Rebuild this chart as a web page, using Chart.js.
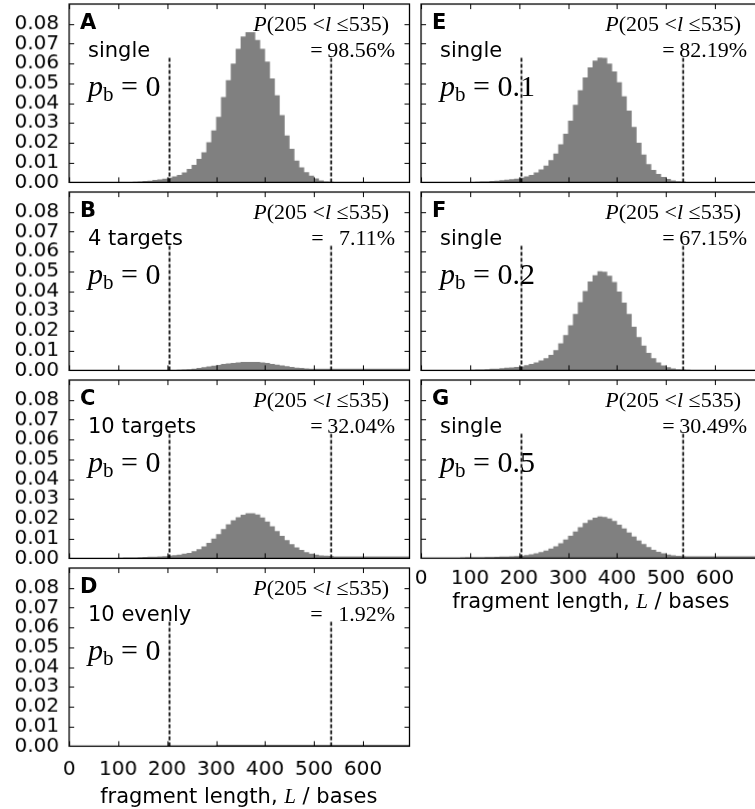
<!DOCTYPE html>
<html>
<head>
<meta charset="utf-8">
<script src="https://cdn.jsdelivr.net/npm/chart.js@4.4.0/dist/chart.umd.min.js"></script>
<style>
    html, body { margin: 0; padding: 0; background: #fff; width: 755px; height: 809px; overflow: hidden; }
    .panel { position: absolute; }
    .note { position: absolute; white-space: nowrap; color: #000; line-height: 1; z-index: 5; }
    .sans { font-family: "DejaVu Sans", sans-serif; }
    .serif { font-family: "Liberation Serif", "DejaVu Serif", serif; }
    .letter { font-weight: bold; font-size: 21px; }
    .label { font-size: 21px; }
    .pb { font-size: 30px; }
    .pb sub { font-size: 21px; vertical-align: -5px; font-style: normal; }
    .prob { font-size: 22px; }
    .eq { margin-right: 0.2em; }
    .ghost { visibility: hidden; }
</style>
</head>
<body>
<script>
// Histogram bins: 10 bases wide, 0..700
const BIN_WIDTH = 10;
const BIN_CENTERS = Array.from({ length: 70 }, (_, i) => i * BIN_WIDTH + BIN_WIDTH / 2);

const X_TICKS = [0, 100, 200, 300, 400, 500, 600];
const Y_TICKS = [0, 0.01, 0.02, 0.03, 0.04, 0.05, 0.06, 0.07, 0.08];
const X_MAX = 695;
const Y_MAX = 0.09;

// window limits (dashed lines)
const CUT_LOW = 205;
const CUT_HIGH = 535;
const CUT_TOP = 0.063;

// probability per bin, one array per panel (bins 0-10, 10-20, ... 690-700)
const HIST_A = [
    0, 0, 0, 0, 0, 0, 0, 0, 0, 0,
    0, 0, 0, 0.0003, 0.0005, 0.0007, 0.0009, 0.0012, 0.0015, 0.0019,
    0.0024, 0.0030, 0.0037, 0.0050, 0.0068, 0.0088, 0.0119, 0.0152, 0.0203, 0.0262,
    0.0330, 0.0431, 0.0516, 0.0600, 0.0674, 0.0736, 0.0758, 0.0758, 0.0719, 0.0674,
    0.0609, 0.0525, 0.0440, 0.0339, 0.0237, 0.0170, 0.0110, 0.0076, 0.0051, 0.0034,
    0.0020, 0.0010, 0.0005, 0.0003, 0, 0, 0, 0, 0, 0,
    0, 0, 0, 0, 0, 0, 0, 0, 0, 0
];
const HIST_B = [
    0, 0, 0, 0, 0, 0, 0, 0, 0, 0,
    0.0001, 0.0001, 0.0001, 0.0002, 0.0002, 0.0002, 0.0002, 0.0002, 0.0002, 0.0002,
    0.0002, 0.0002, 0.0003, 0.0004, 0.0006, 0.0009, 0.0012, 0.0016, 0.0020, 0.0024,
    0.0028, 0.0032, 0.0035, 0.0038, 0.0040, 0.0042, 0.0043, 0.0043, 0.0042, 0.0040,
    0.0037, 0.0033, 0.0029, 0.0025, 0.0021, 0.0017, 0.0014, 0.0012, 0.0010, 0.0009,
    0.0009, 0.0009, 0.0009, 0.0009, 0.0009, 0.0009, 0.0009, 0.0009, 0.0009, 0.0009,
    0.0009, 0.0009, 0.0009, 0.0009, 0.0009, 0.0009, 0.0009, 0.0009, 0.0009, 0.0009
];
const HIST_C = [
    0, 0, 0, 0, 0, 0, 0, 0, 0, 0.0002,
    0.0003, 0.0004, 0.0004, 0.0005, 0.0006, 0.0007, 0.0008, 0.0009, 0.0010, 0.0011,
    0.0013, 0.0016, 0.0019, 0.0023, 0.0028, 0.0036, 0.0046, 0.0060, 0.0078, 0.0100,
    0.0122, 0.0148, 0.0172, 0.0192, 0.0208, 0.0220, 0.0228, 0.0228, 0.0222, 0.0206,
    0.0186, 0.0162, 0.0138, 0.0114, 0.0092, 0.0072, 0.0055, 0.0042, 0.0031, 0.0023,
    0.0018, 0.0015, 0.0013, 0.0012, 0.0010, 0.0010, 0.0010, 0.0010, 0.0010, 0.0010,
    0.0010, 0.0010, 0.0010, 0.0010, 0.0010, 0.0010, 0.0010, 0.0010, 0.0010, 0.0010
];
const HIST_D = [
    0.0002, 0.0002, 0.0002, 0.0002, 0.0002, 0.0002, 0.0002, 0.0002, 0.0002, 0.0002,
    0.0002, 0.0002, 0.0002, 0.0002, 0.0002, 0.0002, 0.0002, 0.0002, 0.0002, 0.0002,
    0.0003, 0.0003, 0.0003, 0.0003, 0.0003, 0.0003, 0.0003, 0.0003, 0.0003, 0.0003,
    0.0007, 0.0007, 0.0007, 0.0007, 0.0007, 0.0007, 0.0007, 0.0007, 0.0007, 0.0007,
    0.0007, 0.0007, 0.0007, 0.0007, 0.0007, 0.0007, 0.0007, 0.0007, 0.0007, 0.0007,
    0.0007, 0.0007, 0.0007, 0.0007, 0.0007, 0.0007, 0.0007, 0.0007, 0.0007, 0.0007,
    0.0007, 0.0007, 0.0007, 0.0007, 0.0007, 0.0007, 0.0007, 0.0007, 0.0007, 0.0007
];
const HIST_E = [
    0, 0, 0, 0, 0, 0, 0, 0, 0, 0,
    0.0002, 0.0003, 0.0004, 0.0005, 0.0007, 0.0009, 0.0011, 0.0013, 0.0016, 0.0019,
    0.0024, 0.0030, 0.0038, 0.0050, 0.0066, 0.0085, 0.0112, 0.0145, 0.0192, 0.0246,
    0.0312, 0.0392, 0.0465, 0.0530, 0.0580, 0.0615, 0.0630, 0.0628, 0.0600, 0.0560,
    0.0505, 0.0435, 0.0362, 0.0280, 0.0200, 0.0140, 0.0092, 0.0063, 0.0042, 0.0028,
    0.0017, 0.0010, 0.0006, 0.0004, 0.0002, 0, 0, 0, 0, 0,
    0, 0, 0, 0, 0, 0, 0, 0, 0, 0
];
const HIST_F = [
    0, 0, 0, 0, 0, 0, 0, 0, 0, 0,
    0.0003, 0.0004, 0.0005, 0.0006, 0.0008, 0.0009, 0.0011, 0.0013, 0.0015, 0.0017,
    0.0020, 0.0026, 0.0032, 0.0040, 0.0050, 0.0062, 0.0078, 0.0102, 0.0136, 0.0178,
    0.0228, 0.0285, 0.0345, 0.0400, 0.0448, 0.0480, 0.0501, 0.0498, 0.0478, 0.0446,
    0.0398, 0.0342, 0.0285, 0.0220, 0.0168, 0.0125, 0.0088, 0.0062, 0.0040, 0.0025,
    0.0016, 0.0010, 0.0006, 0.0004, 0.0003, 0.0002, 0, 0, 0, 0,
    0, 0, 0, 0, 0, 0, 0, 0, 0, 0
];
const HIST_G = [
    0, 0, 0, 0, 0, 0, 0, 0, 0.0003, 0.0004,
    0.0004, 0.0005, 0.0005, 0.0006, 0.0006, 0.0007, 0.0008, 0.0009, 0.0010, 0.0011,
    0.0012, 0.0016, 0.0020, 0.0025, 0.0031, 0.0039, 0.0049, 0.0061, 0.0076, 0.0094,
    0.0114, 0.0135, 0.0157, 0.0178, 0.0194, 0.0205, 0.0211, 0.0209, 0.0201, 0.0188,
    0.0170, 0.0150, 0.0130, 0.0110, 0.0090, 0.0072, 0.0056, 0.0043, 0.0033, 0.0025,
    0.0019, 0.0015, 0.0012, 0.0011, 0.0010, 0.0010, 0.0010, 0.0010, 0.0010, 0.0010,
    0.0010, 0.0010, 0.0010, 0.0010, 0.0010, 0.0010, 0.0010, 0.0010, 0.0010, 0.0010
];

const PANEL_IDS = ["A", "B", "C", "D", "E", "F", "G"];
const PANEL_HISTS = [HIST_A, HIST_B, HIST_C, HIST_D, HIST_E, HIST_F, HIST_G];
const PANEL_LABELS = ["single", "4 targets", "10 targets", "10 evenly", "single", "single", "single"];
const PANEL_PB = ["0", "0", "0", "0", "0.1", "0.2", "0.5"];
const PANEL_PROB = ["98.56%", "7.11%", "32.04%", "1.92%", "82.19%", "67.15%", "30.49%"];

// layout of the plot areas on the page
const COL_LEFT = [69, 421];
const ROW_TOP = [4.3, 192.3, 380.3, 568.3];
const PLOT_W = 339.5;
const PLOT_H = 177.4;
const TICK_LEN = 5;

const FILL_GRAY = "#808080";

// frame + inward ticks on all four sides (matplotlib look)
const frameTicks = {
    id: "frameTicks",
    afterDatasetsDraw(chart) {
        const { ctx, chartArea: a, scales: { x, y } } = chart;
        ctx.save();
        ctx.strokeStyle = "#000";
        ctx.lineWidth = 1;
        ctx.setLineDash([]);
        ctx.beginPath();
        X_TICKS.forEach(v => {
            const px = Math.round(x.getPixelForValue(v)) + 0.5;
            ctx.moveTo(px, a.top); ctx.lineTo(px, a.top + TICK_LEN);
            ctx.moveTo(px, a.bottom); ctx.lineTo(px, a.bottom - TICK_LEN);
        });
        Y_TICKS.forEach(v => {
            const py = Math.round(y.getPixelForValue(v)) + 0.5;
            ctx.moveTo(a.left, py); ctx.lineTo(a.left + TICK_LEN, py);
            ctx.moveTo(a.right, py); ctx.lineTo(a.right - TICK_LEN, py);
        });
        ctx.stroke();
        ctx.lineWidth = 1.3;
        ctx.strokeRect(a.left, a.top, a.right - a.left, a.bottom - a.top);
        ctx.restore();
    }
};

function addNote(html, cls, left, top, align) {
    const el = document.createElement("div");
    el.className = "note " + cls;
    el.innerHTML = html;
    el.style.left = left + "px";
    el.style.top = top + "px";
    if (align === "right") el.style.transform = "translateX(-100%)";
    if (align === "center") el.style.transform = "translateX(-50%)";
    document.body.appendChild(el);
}

function buildPanel(idx) {
    const col = idx < 4 ? 0 : 1;
    const row = idx < 4 ? idx : idx - 4;
    const showX = idx === 3 || idx === 6;
    const axisW = col === 0 ? 69 : 16;
    const padTop = 8;
    const bottomH = showX ? 45 : 10;
    const plotLeft = COL_LEFT[col];
    const plotTop = ROW_TOP[row];

    const box = document.createElement("div");
    box.className = "panel";
    box.style.left = (plotLeft - axisW) + "px";
    box.style.top = (plotTop - padTop) + "px";
    box.style.width = (axisW + PLOT_W + 3) + "px";
    box.style.height = (padTop + PLOT_H + bottomH) + "px";
    const canvas = document.createElement("canvas");
    box.appendChild(canvas);
    document.body.appendChild(box);

    const hist = PANEL_HISTS[idx];
    const cutLine = xv => ({
        data: [{ x: xv, y: 0 }, { x: xv, y: CUT_TOP }],
        borderColor: "#000", borderWidth: 1.7, borderDash: [4, 2],
        pointRadius: 0, fill: false, order: 1
    });

    new Chart(canvas, {
        type: "line",
        data: {
            datasets: [
                cutLine(CUT_LOW),
                cutLine(CUT_HIGH),
                {
                    data: BIN_CENTERS.map((c, i) => ({ x: c, y: hist[i] })),
                    stepped: "middle",
                    borderWidth: 0,
                    borderColor: FILL_GRAY,
                    backgroundColor: FILL_GRAY,
                    fill: "origin",
                    pointRadius: 0,
                    order: 2
                }
            ]
        },
        options: {
            responsive: true,
            maintainAspectRatio: false,
            animation: false,
            layout: { padding: { top: padTop, right: 3, left: 0, bottom: 0 } },
            plugins: { legend: { display: false }, tooltip: { enabled: false } },
            scales: {
                x: {
                    type: "linear",
                    min: 0, max: X_MAX,
                    grid: { display: false, drawTicks: false },
                    border: { display: false },
                    afterBuildTicks: s => { s.ticks = X_TICKS.map(v => ({ value: v })); },
                    afterFit: s => {
                        s.height = bottomH;
                        s.paddingLeft = 0; s.paddingRight = 0;
                    },
                    ticks: {
                        display: showX,
                        maxRotation: 0,
                        autoSkip: false,
                        padding: idx === 3 ? 11 : 8,
                        color: "#000",
                        font: { family: "DejaVu Sans", size: 20 }
                    }
                },
                y: {
                    min: 0, max: Y_MAX,
                    grid: { display: false, drawTicks: false },
                    border: { display: false },
                    afterBuildTicks: s => { s.ticks = Y_TICKS.map(v => ({ value: v })); },
                    afterFit: s => {
                        s.width = axisW;
                        s.paddingTop = 0; s.paddingBottom = 0;
                    },
                    ticks: {
                        display: col === 0,
                        autoSkip: false,
                        padding: 10,
                        color: "#000",
                        font: { family: "DejaVu Sans", size: 20, lineHeight: 1 },
                        callback: v => v.toFixed(2)
                    }
                }
            }
        },
        plugins: [frameTicks]
    });

    // annotations
    const probText = PANEL_PROB[idx].length < 6
        ? '<span class="eq">=</span><span class="ghost">9</span>' + PANEL_PROB[idx]
        : '<span class="eq">=</span>' + PANEL_PROB[idx];
    addNote(PANEL_IDS[idx], "sans letter", plotLeft + 11, plotTop + 8);
    addNote(PANEL_LABELS[idx], "sans label", plotLeft + 19, plotTop + 36);
    addNote('<i>p</i><sub>b</sub> = ' + PANEL_PB[idx], "serif pb", plotLeft + 19, plotTop + 67);
    addNote('<i>P</i>(205 &lt;<i>l</i> &le;535)', "serif prob", plotLeft + 320, plotTop + 9, "right");
    addNote(probText, "serif prob", plotLeft + 326, plotTop + 34.3, "right");

    if (showX) {
        const bottom = plotTop + PLOT_H;
        const titleTop = idx === 3 ? bottom + 40 : bottom + 33;
        addNote('fragment length, <i class="serif">L</i> / bases', "sans label",
            plotLeft + PLOT_W / 2, titleTop, "center");
    }
}

PANEL_IDS.forEach((_, i) => buildPanel(i));
</script>
</body>
</html>
